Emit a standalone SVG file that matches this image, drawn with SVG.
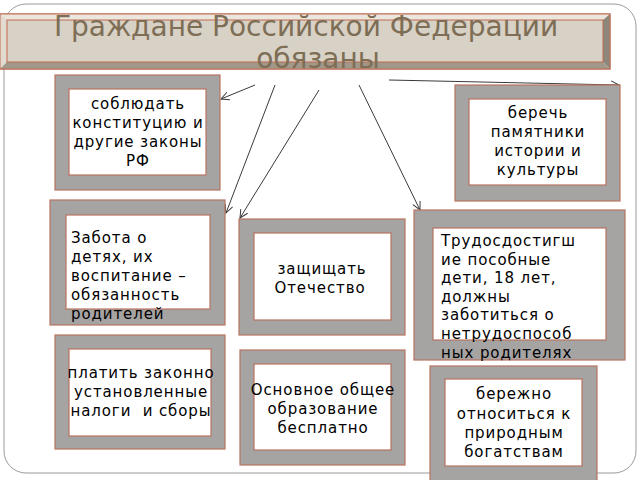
<svg xmlns="http://www.w3.org/2000/svg" width="640" height="480" viewBox="0 0 640 480">
<defs>
<style>
.outer{fill:#a6a3a3;stroke:#b8735f;stroke-width:1.2}
.inner{fill:#ffffff;stroke:#b8735f;stroke-width:1.2}
.t{font-family:"DejaVu Sans","Noto Sans",sans-serif;font-size:15px;letter-spacing:0.9px;fill:#000}
.c{text-anchor:middle}
.pre{white-space:pre}
.title{font-family:"DejaVu Sans","Noto Sans",sans-serif;font-size:28px;fill:#7d6e55;text-anchor:middle}
.conn{stroke:#3a3a3a;stroke-width:1;fill:none;marker-end:url(#arr)}
</style>
<marker id="arr" markerUnits="userSpaceOnUse" markerWidth="12" markerHeight="12" refX="9" refY="5" orient="auto">
<path d="M1,1 L9,5 L1,9" fill="none" stroke="#3a3a3a" stroke-width="1"/>
</marker>
</defs>
<rect width="640" height="480" fill="#ffffff"/>
<rect x="4" y="4" width="632" height="469" rx="22" fill="#ffffff" stroke="#9a9a9a" stroke-width="1"/>

<g id="title">
<rect x="0" y="14" width="610" height="55" fill="#e6e0d6" stroke="#c06a50" stroke-width="1"/>
<polygon points="0,14 610,14 603,20 7,20" fill="#ece7de"/>
<polygon points="0,14 7,20 7,62 0,69" fill="#e2dbd0"/>
<polygon points="610,14 610,69 603,62 603,20" fill="#8e877c"/>
<polygon points="0,69 610,69 603,62 7,62" fill="#a1988a"/>
<rect x="0" y="14" width="610" height="55" fill="none" stroke="#c06a50" stroke-width="1"/>
<rect x="7" y="20" width="596" height="42" fill="#d8d1c5" stroke="#c06a50" stroke-width="1"/>
<text class="title" x="306" y="36">Граждане Российской Федерации</text>
<text class="title" x="318" y="68">обязаны</text>
</g>

<g id="connectors">
<line class="conn" x1="255" y1="85" x2="221" y2="99"/>
<line class="conn" x1="275" y1="85" x2="226" y2="213"/>
<line class="conn" x1="319" y1="90" x2="240" y2="218"/>
<line class="conn" x1="359" y1="85" x2="420" y2="210"/>
<line class="conn" x1="389" y1="80" x2="619" y2="85"/>
</g>

<g id="n1">
<rect class="outer" x="55" y="75" width="165" height="115"/>
<rect class="inner" x="69" y="89" width="137" height="86"/>
<text class="t c" x="138" y="109">соблюдать</text>
<text class="t c" x="138" y="128">конституцию и</text>
<text class="t c" x="138" y="147">другие законы</text>
<text class="t c" x="138" y="166">РФ</text>
</g>

<g id="n2">
<rect class="outer" x="455" y="85" width="165" height="116"/>
<rect class="inner" x="469" y="99" width="137" height="86"/>
<text class="t c" x="538" y="118">беречь</text>
<text class="t c" x="538" y="137">памятники</text>
<text class="t c" x="538" y="156">истории и</text>
<text class="t c" x="538" y="175">культуры</text>
</g>

<g id="n3">
<rect class="outer" x="50" y="200" width="175" height="125"/>
<rect class="inner" x="66" y="215" width="144" height="94"/>
<text class="t" x="71" y="243">Забота о</text>
<text class="t" x="71" y="262">детях, их</text>
<text class="t" x="71" y="281">воспитание –</text>
<text class="t" x="71" y="300">обязанность</text>
<text class="t" x="71" y="319">родителей</text>
</g>

<g id="n4">
<rect class="outer" x="239" y="219" width="166" height="116"/>
<rect class="inner" x="254" y="233" width="137" height="87"/>
<text class="t c" x="322" y="274">защищать</text>
<text class="t c" x="320" y="293">Отечество</text>
</g>

<g id="n5">
<rect class="outer" x="414" y="210" width="211" height="150"/>
<rect class="inner" x="433" y="228" width="173" height="112"/>
<text class="t" x="441" y="246">Трудосдостигш</text>
<text class="t" x="441" y="265">ие пособные</text>
<text class="t" x="441" y="283">дети, 18 лет,</text>
<text class="t" x="441" y="302">должны</text>
<text class="t" x="441" y="320">заботиться о</text>
<text class="t" x="441" y="339">нетрудоспособ</text>
<text class="t" x="441" y="358">ных родителях</text>
</g>

<g id="n6">
<rect class="outer" x="55" y="335" width="170" height="114"/>
<rect class="inner" x="69" y="349" width="142" height="87"/>
<text class="t c" x="141" y="378">платить законно</text>
<text class="t c" x="141" y="397">установленные</text>
<text class="t c pre" x="141" y="416">налоги  и сборы</text>
</g>

<g id="n7">
<rect class="outer" x="240" y="350" width="165" height="115"/>
<rect class="inner" x="254" y="364" width="137" height="86"/>
<text class="t c" x="323" y="395">Основное общее</text>
<text class="t c" x="323" y="414">образование</text>
<text class="t c" x="323" y="433">бесплатно</text>
</g>

<g id="n8">
<rect class="outer" x="430" y="366" width="167" height="116"/>
<rect class="inner" x="445" y="379" width="137" height="87"/>
<text class="t c" x="514" y="399">бережно</text>
<text class="t c" x="514" y="419">относиться к</text>
<text class="t c" x="514" y="438">природным</text>
<text class="t c" x="514" y="457">богатствам</text>
</g>
</svg>
